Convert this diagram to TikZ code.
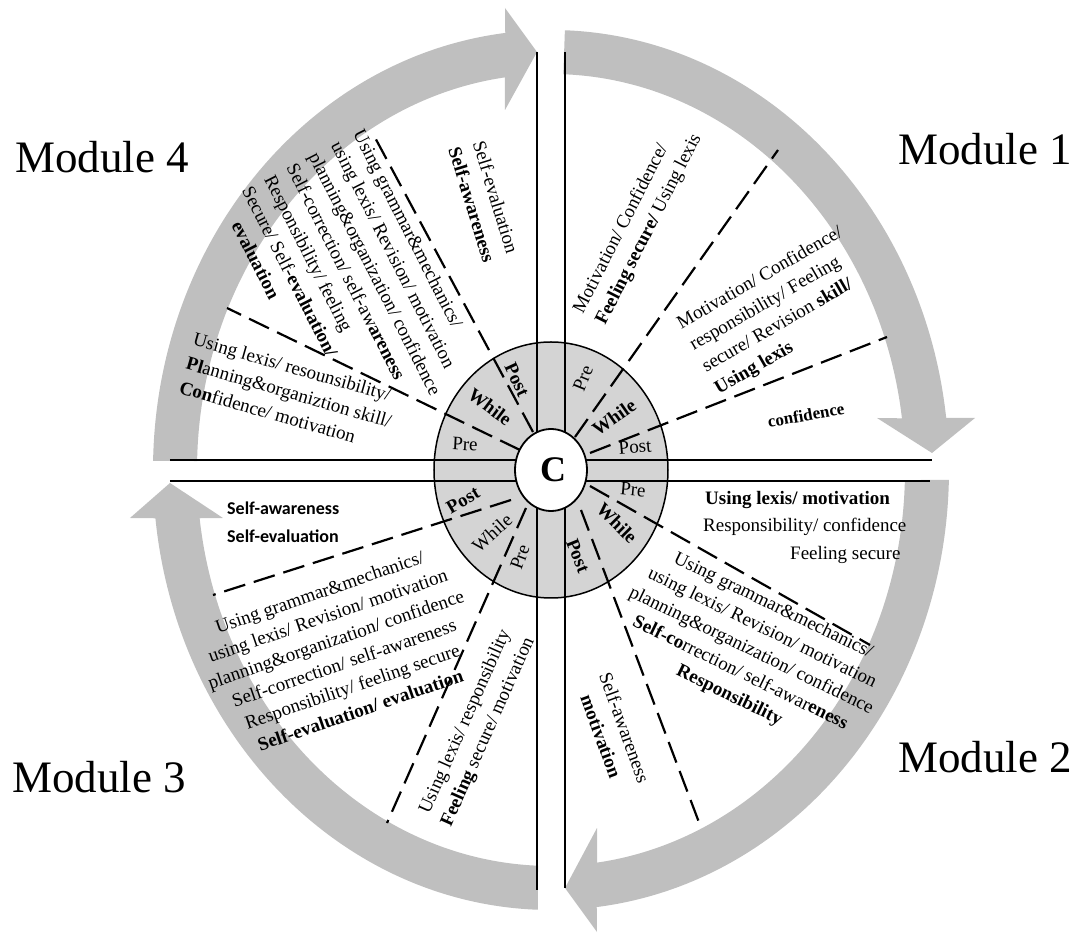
\documentclass[tikz,border=0pt]{standalone}
\usepackage{fontspec}
\setmainfont{Liberation Serif}
\newfontfamily\calibri{Carlito}
\usepackage{tikz}
\definecolor{ringgray}{RGB}{191,191,191}
\definecolor{discgray}{RGB}{212,212,212}
\tikzstyle{ring} = [fill=ringgray]
\tikzstyle{channel} = [draw, line width=2pt]
\tikzstyle{divider} = [draw, line width=2.2pt, dash pattern=on 22pt off 9pt]
\tikzstyle{skill} = [font=\fontsize{19}{25}\selectfont, inner sep=0pt]
\tikzstyle{stage} = [font=\fontsize{19}{22}\selectfont, inner sep=0pt]
\tikzstyle{modname} = [font=\fontsize{45}{50}\selectfont, inner sep=0pt, anchor=base west]
\tikzstyle{sansbold} = [font=\calibri\bfseries\fontsize{18}{22}\selectfont, inner sep=0pt, anchor=base west]
\begin{document}
\begin{tikzpicture}[x=1pt, y=1pt]
   \useasboundingbox (-551,-463) rectangle (530,470);

   % the four module arrows
   \fill [ring] (88:398pt and 440pt)
      arc[start angle=88, end angle=6.8, x radius=398pt, y radius=440pt]
      -- (424,52) -- (381,17) -- (326,52) -- (7.5:354pt and 396pt)
      arc[start angle=7.5, end angle=88, x radius=354pt, y radius=396pt] -- cycle;
   \fill [ring] (-1.3:398pt and 440pt)
      arc[start angle=-1.3, end angle=-83.4, x radius=398pt, y radius=440pt]
      -- (46,-462) -- (14,-418) -- (46,-358) -- (-82.5:354pt and 396pt)
      arc[start angle=-82.5, end angle=-1.45, x radius=354pt, y radius=396pt] -- cycle;
   \fill [ring] (-91.9:398pt and 440pt)
      arc[start angle=-91.9, end angle=-173.7, x radius=398pt, y radius=440pt]
      -- (-421,-48) -- (-381,-13) -- (-328,-48) -- (-173:354pt and 396pt)
      arc[start angle=-173, end angle=-92.1, x radius=354pt, y radius=396pt] -- cycle;
   \fill [ring] (178.8:398pt and 440pt)
      arc[start angle=178.8, end angle=96.6, x radius=398pt, y radius=440pt]
      -- (-46,462) -- (-14,418) -- (-46,360) -- (97.5:354pt and 396pt)
      arc[start angle=97.5, end angle=178.7, x radius=354pt, y radius=396pt] -- cycle;

   % inner disc
   \fill [discgray] (0,0) ellipse[x radius=117pt, y radius=128pt];

   % dashed dividers between pre, while and post
   \path [divider] (24,33) -- (227,320);
   \path [divider] (39,17) -- (336,133);
   \path [divider] (39,-16) -- (319,-175);
   \path [divider] (30,-40) -- (149,-355);
   \path [divider] (-25,-38) -- (-164,-353);
   \path [divider] (-40,-30) -- (-338,-125);
   \path [divider] (-31,20) -- (-324,162);
   \path [divider] (-18,38) -- (-179,338);

   % channels between the modules
   \path [channel] (-14,418) -- (-14,-420);
   \path [channel] (14,418) -- (14,-418);
   \path [channel] (-381,10) -- (381,10);
   \path [channel] (-381,-11) -- (379,-11);

   \draw [line width=1.5pt] (0,0) ellipse[x radius=117pt, y radius=128pt];
   \filldraw [fill=white, line width=1.8pt] (0,0) ellipse[x radius=36pt, y radius=41pt];
   \node [font=\bfseries\fontsize{36}{40}\selectfont, inner sep=0pt] (core) at (2,0) {C};

   % stages
   \node [stage, rotate=68] (pre1) at (32,92) {Pre};
   \node [stage, rotate=35, font=\bfseries\fontsize{19}{22}\selectfont] (while1) at (63,53) {While};
   \node [stage, rotate=5] (post1) at (84,23) {Post};
   \node [stage, rotate=-5] (pre2) at (82,-20) {Pre};
   \node [stage, rotate=-45, font=\bfseries\fontsize{19}{22}\selectfont] (while2) at (66,-53) {While};
   \node [stage, rotate=-68, font=\bfseries\fontsize{19}{22}\selectfont] (post2) at (27,-86) {Post};
   \node [stage, rotate=70] (pre3) at (-31,-87) {Pre};
   \node [stage, rotate=42] (while3) at (-59,-63) {While};
   \node [stage, rotate=30, font=\bfseries\fontsize{19}{22}\selectfont] (post3) at (-88,-30) {Post};
   \node [stage, rotate=-3] (pre4) at (-86,26) {Pre};
   \node [stage, rotate=-37, font=\bfseries\fontsize{19}{22}\selectfont] (while4) at (-61,63) {While};
   \node [stage, rotate=-65, font=\bfseries\fontsize{19}{22}\selectfont] (post4) at (-34,90) {Post};

   % module 1
   \node [skill, rotate=63, align=left] (skpre1) at (87,246)
      {Motivation/ Confidence/\\\textbf{Feeling secure/} Using lexis};
   \node [skill, rotate=30, align=left] (skwhile1) at (228,159)
      {Motivation/ Confidence/\\responsibility/ Feeling\\secure/ Revision \textbf{skill/}\\\textbf{Using lexis}};
   \node [skill, rotate=10, font=\bfseries\fontsize{17}{20}\selectfont] (skpost1) at (255,55) {confidence};

   % module 2
   \node [skill, anchor=base west] (skpre2a) at (154,-35) {\textbf{Using lexis/ motivation}};
   \node [skill, anchor=base west] (skpre2b) at (152,-62) {Responsibility/ confidence};
   \node [skill, anchor=base west] (skpre2c) at (239,-90) {Feeling secure};
   \node [skill, rotate=-26, align=center] (skwhile2) at (200,-181)
      {Using grammar\&mechanics/\\using lexis/ Revision/ motivation\\planning\&organization/ confidence\\
       \textbf{Self-co}rrection/ self-awar\textbf{eness}\\\textbf{Responsibility}};
   \node [skill, rotate=-70, align=center] (skpost2) at (62,-262) {Self-awareness\\\textbf{motivation}};

   % module 3
   \node [skill, rotate=66, align=center] (skpre3) at (-74,-257)
      {Using lexis/ responsibility\\\textbf{Feeling} secure/ motivation};
   \node [skill, rotate=19, align=center] (skwhile3) at (-211,-181)
      {Using grammar\&mechanics/\\using lexis/ Revision/ motivation\\planning\&organization/ confidence\\
       Self-correction/ self-awareness\\Responsibility/ feeling secure\\\textbf{Self-evaluation/ evaluation}};
   \node [sansbold] (skpost3a) at (-324,-45) {Self-awareness};
   \node [sansbold] (skpost3b) at (-324,-73) {Self-evaluation};

   % module 4
   \node [skill, rotate=-16, align=left] (skpre4) at (-262,78)
      {Using lexis/ resounsibility/\\\textbf{Pl}anning\&organiztion skill/\\\textbf{Con}fidence/ motivation};
   \node [skill, rotate=-63, align=left] (skwhile4) at (-198,185)
      {Using grammar\&mechanics/\\using lexis/ Revision/ motivation\\planning\&organization/ confidence\\
       Self-correction/ self-aw\textbf{areness}\\Responsibility/ feeling\\Secure/ Self-\textbf{evaluation/}\\
       \hspace*{26pt}\textbf{evaluation}};
   \node [skill, rotate=-73, align=center] (skpost4) at (-67,269) {Self-evaluation\\\textbf{Self-awareness}};

   \node [modname] (mod1) at (347,305) {Module 1};
   \node [modname] (mod2) at (347,-302) {Module 2};
   \node [modname] (mod3) at (-539,-322) {Module 3};
   \node [modname] (mod4) at (-536,297) {Module 4};
\end{tikzpicture}
\end{document}
